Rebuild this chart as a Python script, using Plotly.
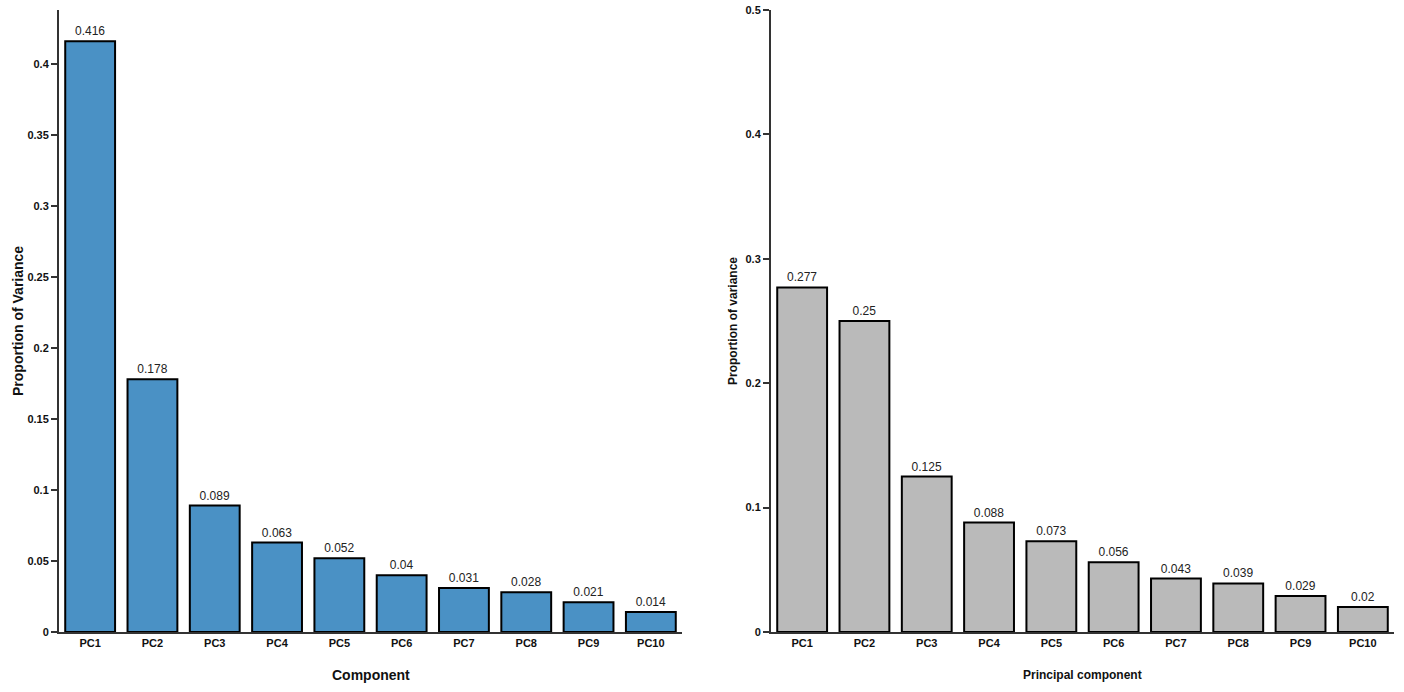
import plotly.graph_objects as go

categories = ["PC1", "PC2", "PC3", "PC4", "PC5", "PC6", "PC7", "PC8", "PC9", "PC10"]
left_values = [0.416, 0.178, 0.089, 0.063, 0.052, 0.04, 0.031, 0.028, 0.021, 0.014]
right_values = [0.277, 0.25, 0.125, 0.088, 0.073, 0.056, 0.043, 0.039, 0.029, 0.02]
left_ticks = [0, 0.05, 0.1, 0.15, 0.2, 0.25, 0.3, 0.35, 0.4]
right_ticks = [0, 0.1, 0.2, 0.3, 0.4, 0.5]

W, H = 1404, 692
FONT = "Liberation Sans, Arial, sans-serif"
AX = "#333333"

def px_x(p):
    return p / W

def px_y(p):
    return 1 - p / H

fig = go.Figure()
fig.add_trace(go.Bar(
    x=categories, y=left_values, width=0.8,
    marker=dict(color="#4a91c5", line=dict(color="#000000", width=2)),
    text=[str(v) for v in left_values], textposition="outside",
    textfont=dict(family=FONT, size=12, color="#222222"),
    cliponaxis=False, xaxis="x", yaxis="y", showlegend=False, hoverinfo="skip",
))
fig.add_trace(go.Bar(
    x=categories, y=right_values, width=0.8,
    marker=dict(color="#bababa", line=dict(color="#000000", width=2)),
    text=[str(v) for v in right_values], textposition="outside",
    textfont=dict(family=FONT, size=12, color="#222222"),
    cliponaxis=False, xaxis="x2", yaxis="y2", showlegend=False, hoverinfo="skip",
))

xcommon = dict(type="category", range=[-0.5, 9.5], showline=True, linecolor=AX, linewidth=2,
               ticks="", showgrid=False, zeroline=False, automargin=False,
               ticklabeloverflow="allow",
               tickfont=dict(family=FONT, size=11, color="#111111", weight="bold"))
ycommon = dict(showline=True, linecolor=AX, linewidth=2, ticks="outside", ticklen=6,
               tickwidth=1.5, tickcolor=AX, showgrid=False, zeroline=False, automargin=False,
               ticklabeloverflow="allow",
               tickfont=dict(family=FONT, size=11, color="#111111", weight="bold"))

fig.update_layout(
    width=W, height=H, autosize=False,
    margin=dict(l=0, r=0, t=0, b=0, pad=0, autoexpand=False),
    paper_bgcolor="white", plot_bgcolor="white",
    bargap=0.2,
    xaxis=dict(domain=[px_x(59), px_x(682)], anchor="y", **xcommon),
    yaxis=dict(domain=[px_y(632), px_y(10)], anchor="x", range=[0, 0.438],
               tickvals=left_ticks, ticktext=[f"{t:g}" for t in left_ticks], **ycommon),
    xaxis2=dict(domain=[px_x(771), px_x(1394)], anchor="y2", **xcommon),
    yaxis2=dict(domain=[px_y(632), px_y(10)], anchor="x2", range=[0, 0.5],
                tickvals=right_ticks, ticktext=[f"{t:g}" for t in right_ticks], **ycommon),
    annotations=[
        dict(text="<b>Component</b>", xref="paper", yref="paper", x=px_x(370.5), y=px_y(675),
             showarrow=False, xanchor="center", yanchor="middle",
             font=dict(family=FONT, size=14, color="#111111")),
        dict(text="<b>Proportion of Variance</b>", xref="paper", yref="paper", x=px_x(18), y=px_y(321),
             showarrow=False, xanchor="center", yanchor="middle", textangle=-90,
             font=dict(family=FONT, size=14, color="#111111")),
        dict(text="<b>Principal component</b>", xref="paper", yref="paper", x=px_x(1082.5), y=px_y(675),
             showarrow=False, xanchor="center", yanchor="middle",
             font=dict(family=FONT, size=12, color="#111111")),
        dict(text="<b>Proportion of variance</b>", xref="paper", yref="paper", x=px_x(733), y=px_y(321),
             showarrow=False, xanchor="center", yanchor="middle", textangle=-90,
             font=dict(family=FONT, size=12, color="#111111")),
    ],
)

fig.write_html("out.html", config={"displayModeBar": False},
               post_script="document.body.style.margin='0px';")
